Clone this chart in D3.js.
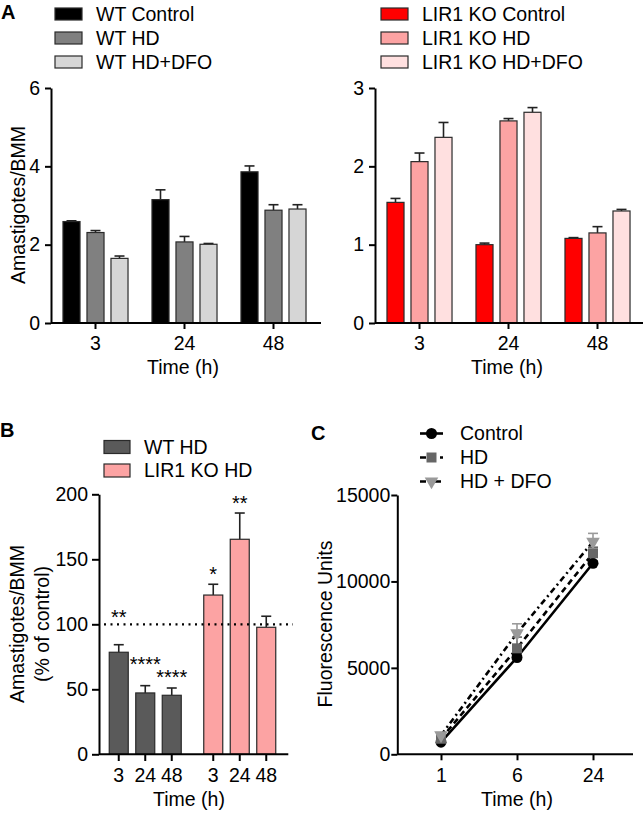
<!DOCTYPE html>
<html><head><meta charset="utf-8">
<script src="https://cdn.jsdelivr.net/npm/d3@7"></script>
<style>
body{margin:0;background:#fff;}
svg text{font-family:"Liberation Sans",Arial,Helvetica,sans-serif;fill:#000;}
</style></head><body>
<svg id="c" width="643" height="813"></svg>
<script>
// ---------- DATA ----------
const timesA = ["3","24","48"];
const wtSeries = ["WT Control","WT HD","WT HD+DFO"];
const wtMeans = [[2.59,3.15,3.86],[2.31,2.07,2.88],[1.65,2.01,2.91]];
const wtErr   = [[0.02,0.25,0.15],[0.05,0.14,0.14],[0.06,0.02,0.11]];
const wtColors = ["#000000","#808080","#d6d6d6"];
const wtTicks = [0,2,4,6];

const koSeries = ["LIR1 KO Control","LIR1 KO HD","LIR1 KO HD+DFO"];
const koMeans = [[1.54,1.00,1.08],[2.06,2.58,1.15],[2.37,2.69,1.43]];
const koErr   = [[0.05,0.02,0.01],[0.11,0.03,0.08],[0.19,0.06,0.02]];
const koColors = ["#ff0000","#fca3a3","#ffe0e0"];
const koTicks = [0,1,2,3];

const genotypesB = ["WT HD","LIR1 KO HD"];
const timesB = ["3","24","48"];
const pctMeans = [[78.5,47.2,45.4],[122.5,165.4,97.7]];
const pctErr   = [[5.8,5.6,5.6],[8.3,20.2,8.5]];
const pctStars = [["**","****","****"],["*","**",""]];
const pctStarY = [[109,72.5,62.3],[141.8,196.5,0]];
const bColors = ["#5a5a5a","#fca3a3"];
const bTicks = [0,50,100,150,200];
const controlLevel = 100;

const timesC = ["1","6","24"];
const seriesC = ["Control","HD","HD + DFO"];
const fluor    = [[700,5600,11050],[900,6130,11630],[1100,7000,12300]];
const fluorErr = [[60,120,120],[150,650,350],[150,550,480]];
const cColors = ["#000000","#666666","#9a9a9a"];
const cDash = [null,"6,4","6,3.5,2,3.5"];
const cSymbols = [d3.symbolCircle, d3.symbolSquare, d3.symbolTriangle];
const cTicks = [0,5000,10000,15000];

// ---------- DRAW ----------
const svg = d3.select("#c");
const FS = 19.5;
const fmt = d3.format("d");

function styleAxis(ax){
  ax.selectAll("path,line").attr("stroke","#000").attr("stroke-width",2);
  ax.selectAll("text").style("font-size",FS+"px").attr("fill","#000");
}

function barPanel(o){
  const g = svg.append("g");
  const y = d3.scaleLinear().domain([0,o.ymax]).range([323,88]);
  const x0 = d3.scaleBand().domain(timesA).range([o.left,o.left+267]);
  const x1 = d3.scaleBand().domain(o.series).range([-36,36]).paddingInner(0.29).paddingOuter(0.145);
  const cells = [];
  o.series.forEach((s,i)=>timesA.forEach((t,j)=>cells.push({s,i,t,v:o.means[i][j],e:o.err[i][j]})));
  const bx = d=>x0(d.t)+x0.bandwidth()/2+x1(d.s);
  const cx = d=>bx(d)+x1.bandwidth()/2;
  g.selectAll(".eb").data(cells).join("line").attr("x1",cx).attr("x2",cx)
    .attr("y1",d=>y(d.v)).attr("y2",d=>y(d.v+d.e)).attr("stroke","#222").attr("stroke-width",1.6);
  g.selectAll(".cap").data(cells).join("line").attr("x1",d=>cx(d)-5).attr("x2",d=>cx(d)+5)
    .attr("y1",d=>y(d.v+d.e)).attr("y2",d=>y(d.v+d.e)).attr("stroke","#222").attr("stroke-width",1.6);
  g.selectAll(".bar").data(cells).join("rect").attr("x",bx).attr("width",x1.bandwidth())
    .attr("y",d=>y(d.v)).attr("height",d=>y(0)-y(d.v))
    .attr("fill",d=>o.colors[d.i]).attr("stroke","#2a2a2a").attr("stroke-width",1.2);
  const ay = g.append("g").attr("transform",`translate(${o.left},0)`)
    .call(d3.axisLeft(y).tickValues(o.ticks).tickFormat(fmt).tickSize(6).tickSizeOuter(0).tickPadding(5));
  styleAxis(ay);
  const axx = g.append("g").attr("transform","translate(0,323)")
    .call(d3.axisBottom(x0).tickSize(6).tickSizeOuter(0).tickPadding(7));
  axx.select(".domain").remove();
  styleAxis(axx);
  g.append("line").attr("x1",o.left).attr("x2",o.left+270).attr("y1",323).attr("y2",323)
    .attr("stroke","#000").attr("stroke-width",2);
  g.append("text").attr("x",o.left+132).attr("y",374).attr("text-anchor","middle")
    .style("font-size",FS+"px").text("Time (h)");
  const lg = g.selectAll(".lg").data(o.series).join("g")
    .attr("transform",(d,i)=>`translate(${o.legX},${14+i*24})`);
  lg.append("rect").attr("x",0).attr("y",-6).attr("width",27).attr("height",12)
    .attr("fill",(d,i)=>o.colors[i]).attr("stroke","#2a2a2a").attr("stroke-width",1.2);
  lg.append("text").attr("x",41).attr("dy","0.35em").style("font-size",FS+"px").text(d=>d);
}

barPanel({left:51, ymax:6, ticks:wtTicks, series:wtSeries, means:wtMeans, err:wtErr, colors:wtColors, legX:55});
barPanel({left:375, ymax:3, ticks:koTicks, series:koSeries, means:koMeans, err:koErr, colors:koColors, legX:381});

svg.append("text").attr("transform","translate(18,205) rotate(-90)").attr("text-anchor","middle")
  .attr("dy","0.35em").style("font-size",FS+"px").text("Amastigotes/BMM");
svg.append("text").attr("x",1).attr("y",19).style("font-size","20px").style("font-weight","bold").text("A");

// ---------- Panel B ----------
(function(){
  const g = svg.append("g");
  const y = d3.scaleLinear().domain([0,200]).range([754.3,494.3]);
  const xg = d3.scaleBand().domain(genotypesB).range([98,287]);
  const xt = d3.scaleBand().domain(timesB).range([-39.75,39.75]).paddingInner(0.283).paddingOuter(0.1415);
  const cells = [];
  genotypesB.forEach((gn,i)=>timesB.forEach((t,j)=>cells.push({gn,i,t,v:pctMeans[i][j],e:pctErr[i][j],star:pctStars[i][j],sy:pctStarY[i][j]})));
  const cx = d=>xg(d.gn)+xg.bandwidth()/2+xt(d.t)+xt.bandwidth()/2;
  g.selectAll(".eb").data(cells).join("line").attr("x1",cx).attr("x2",cx)
    .attr("y1",d=>y(d.v)).attr("y2",d=>y(d.v+d.e)).attr("stroke","#222").attr("stroke-width",1.6);
  g.selectAll(".cap").data(cells).join("line").attr("x1",d=>cx(d)-5).attr("x2",d=>cx(d)+5)
    .attr("y1",d=>y(d.v+d.e)).attr("y2",d=>y(d.v+d.e)).attr("stroke","#222").attr("stroke-width",1.6);
  g.selectAll(".bar").data(cells).join("rect").attr("x",d=>cx(d)-xt.bandwidth()/2).attr("width",xt.bandwidth())
    .attr("y",d=>y(d.v)).attr("height",d=>y(0)-y(d.v))
    .attr("fill",d=>bColors[d.i]).attr("stroke","#2a2a2a").attr("stroke-width",1.2);
  g.append("line").attr("x1",104).attr("x2",293).attr("y1",y(controlLevel)).attr("y2",y(controlLevel))
    .attr("stroke","#000").attr("stroke-width",2.2).attr("stroke-dasharray","2,4.5");
  g.selectAll(".st").data(cells.filter(d=>d.star)).join("text").attr("x",cx).attr("y",d=>y(d.sy))
    .attr("dy","0.55em").attr("text-anchor","middle").style("font-size","20px").text(d=>d.star);
  const ay = g.append("g").attr("transform","translate(99,0)")
    .call(d3.axisLeft(y).tickValues(bTicks).tickFormat(fmt).tickSize(7).tickSizeOuter(0).tickPadding(4));
  styleAxis(ay);
  const tickG = g.append("g");
  tickG.selectAll("line").data(cells).join("line").attr("x1",cx).attr("x2",cx).attr("y1",754.3).attr("y2",761)
    .attr("stroke","#000").attr("stroke-width",2);
  tickG.selectAll("text").data(cells).join("text").attr("x",cx).attr("y",768).attr("dy","0.71em")
    .attr("text-anchor","middle").style("font-size",FS+"px").text(d=>d.t);
  g.append("line").attr("x1",99).attr("x2",288.3).attr("y1",754.3).attr("y2",754.3).attr("stroke","#000").attr("stroke-width",2);
  g.append("text").attr("x",189).attr("y",806).attr("text-anchor","middle").style("font-size",FS+"px").text("Time (h)");
  g.append("text").attr("transform","translate(17,624) rotate(-90)").attr("text-anchor","middle")
    .attr("dy","0.35em").style("font-size",FS+"px").text("Amastigotes/BMM");
  g.append("text").attr("transform","translate(42,624) rotate(-90)").attr("text-anchor","middle")
    .attr("dy","0.35em").style("font-size",FS+"px").text("(% of control)");
  const lg = g.selectAll(".lg").data(genotypesB).join("g").attr("transform",(d,i)=>`translate(104,${447+i*23.5})`);
  lg.append("rect").attr("y",-6.5).attr("width",26).attr("height",13).attr("fill",(d,i)=>bColors[i])
    .attr("stroke","#2a2a2a").attr("stroke-width",1.2);
  lg.append("text").attr("x",40).attr("dy","0.35em").style("font-size",FS+"px").text(d=>d);
  g.append("text").attr("x",0).attr("y",437).style("font-size","20px").style("font-weight","bold").text("B");
})();

// ---------- Panel C ----------
(function(){
  const g = svg.append("g");
  const y = d3.scaleLinear().domain([0,15000]).range([754.3,495]);
  const x = d3.scalePoint().domain(timesC).range([441,593]);
  const line = d3.line().x((d,j)=>x(timesC[j])).y(d=>y(d));
  seriesC.forEach((s,i)=>{
    g.append("path").attr("d",line(fluor[i])).attr("fill","none").attr("stroke","#000")
      .attr("stroke-width",2.6).attr("stroke-dasharray",cDash[i]);
  });
  seriesC.forEach((s,i)=>{
    timesC.forEach((t,j)=>{
      const v=fluor[i][j], e=fluorErr[i][j], px=x(t);
      g.append("line").attr("x1",px).attr("x2",px).attr("y1",y(v)).attr("y2",y(v+e)).attr("stroke",cColors[i]).attr("stroke-width",1.6);
      g.append("line").attr("x1",px-5).attr("x2",px+5).attr("y1",y(v+e)).attr("y2",y(v+e)).attr("stroke",cColors[i]).attr("stroke-width",1.6);
    });
  });
  seriesC.forEach((s,i)=>{
    const sym = d3.symbol().type(cSymbols[i]).size(i===0?95:(i===1?100:80));
    g.selectAll(".m"+i).data(fluor[i]).join("path").attr("d",sym)
      .attr("transform",(d,j)=>`translate(${x(timesC[j])},${y(d)})`+(i===2?" rotate(180)":""))
      .attr("fill",cColors[i]);
  });
  const ay = g.append("g").attr("transform","translate(397.3,0)")
    .call(d3.axisLeft(y).tickValues(cTicks).tickFormat(fmt).tickSize(6).tickSizeOuter(0).tickPadding(1));
  styleAxis(ay);
  const ax = g.append("g").attr("transform","translate(0,754.3)")
    .call(d3.axisBottom(x).tickSize(6).tickSizeOuter(0).tickPadding(8));
  ax.select(".domain").remove();
  styleAxis(ax);
  g.append("line").attr("x1",397.3).attr("x2",633).attr("y1",754.3).attr("y2",754.3).attr("stroke","#000").attr("stroke-width",2);
  g.append("text").attr("x",517).attr("y",806).attr("text-anchor","middle").style("font-size",FS+"px").text("Time (h)");
  g.append("text").attr("transform","translate(325,624) rotate(-90)").attr("text-anchor","middle")
    .attr("dy","0.35em").style("font-size",FS+"px").text("Fluorescence Units");
  const lg = g.selectAll(".lg").data(seriesC).join("g").attr("transform",(d,i)=>`translate(420,${433.5+i*24})`);
  lg.append("line").attr("x1",0).attr("x2",23).attr("stroke","#000").attr("stroke-width",2.6)
    .attr("stroke-dasharray",(d,i)=>cDash[i]);
  lg.append("path").attr("d",(d,i)=>d3.symbol().type(cSymbols[i]).size(i===0?95:(i===1?100:80))())
    .attr("transform",(d,i)=>"translate(11.5,0)"+(i===2?" rotate(180)":"")).attr("fill",(d,i)=>cColors[i]);
  lg.append("text").attr("x",40).attr("dy","0.35em").style("font-size",FS+"px").text(d=>d);
  g.append("text").attr("x",311).attr("y",440).style("font-size","20px").style("font-weight","bold").text("C");
})();
</script>
</body></html>
